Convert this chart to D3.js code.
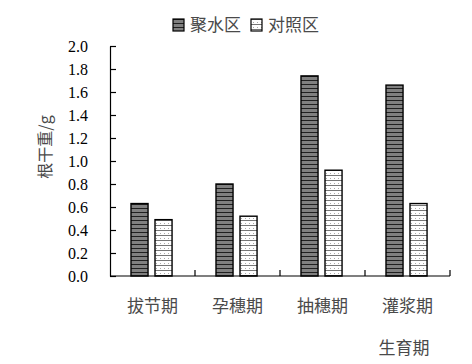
<!DOCTYPE html>
<html>
<head>
<meta charset="utf-8">
<script src="https://cdn.jsdelivr.net/npm/d3@7"></script>
<style>
body { margin: 0; background: #fff; }
.cn { font-family: "Noto Sans CJK SC", sans-serif; fill: #4a4a4a; }
</style>
</head>
<body>
<script>
var stages = [ "拔节期", "孕穗期", "抽穗期", "灌浆期" ];
var series = [ "聚水区", "对照区" ];
var jushui = [ 0.63, 0.80, 1.74, 1.66 ];
var duizhao = [ 0.49, 0.52, 0.92, 0.63 ];
var yTicks = [ 0, 0.2, 0.4, 0.6, 0.8, 1.0, 1.2, 1.4, 1.6, 1.8, 2.0 ];

var W = 472, H = 364;
var plotLeft = 110, plotRight = 450, plotTop = 46, plotBottom = 276;

var svg = d3.select("body").append("svg")
	.attr("width", W)
	.attr("height", H);

// fill patterns
var defs = svg.append("defs");
var pDark = defs.append("pattern")
	.attr("id", "pDark")
	.attr("patternUnits", "userSpaceOnUse")
	.attr("width", 4).attr("height", 4);
pDark.append("rect").attr("width", 4).attr("height", 4).attr("fill", "#808080");
pDark.append("rect").attr("y", 0).attr("width", 4).attr("height", 1).attr("fill", "#202020");

var pLight = defs.append("pattern")
	.attr("id", "pLight")
	.attr("patternUnits", "userSpaceOnUse")
	.attr("width", 4).attr("height", 5);
pLight.append("rect").attr("width", 4).attr("height", 5).attr("fill", "#fff");
pLight.append("rect").attr("y", 0).attr("width", 4).attr("height", 1).attr("fill", "#777");
pLight.append("rect").attr("x", 2).attr("y", 3).attr("width", 1).attr("height", 1).attr("fill", "#aaa");

var fills = [ "url(#pDark)", "url(#pLight)" ];

var x0 = d3.scaleBand().domain(stages).range([ plotLeft, plotRight ]).padding(0);
var bw = x0.bandwidth();
var x1 = d3.scaleBand().domain(series).range([ bw * 0.247, bw * 0.73 ]).paddingInner(0.29).paddingOuter(0);
var y = d3.scaleLinear().domain([ 0, 2 ]).range([ plotBottom, plotTop ]);

var data = stages.map(function(s, i) {
	return { stage : s, values : [ jushui[i], duizhao[i] ] };
});

// bars
var groups = svg.selectAll(".grp").data(data).enter().append("g")
	.attr("class", "grp")
	.attr("transform", function(d) { return "translate(" + x0(d.stage) + ",0)"; });

groups.selectAll("rect").data(function(d) {
	return d.values.map(function(v, j) { return { s : series[j], v : v, j : j }; });
}).enter().append("rect")
	.attr("x", function(d) { return x1(d.s); })
	.attr("y", function(d) { return y(d.v); })
	.attr("width", x1.bandwidth())
	.attr("height", function(d) { return y(0) - y(d.v); })
	.attr("fill", function(d) { return fills[d.j]; })
	.attr("stroke", "#000")
	.attr("stroke-width", 1.4);

// y axis
var yAxis = d3.axisLeft(y).tickValues(yTicks).tickFormat(d3.format(".1f"))
	.tickSize(-6).tickSizeOuter(0).tickPadding(22);
var gy = svg.append("g")
	.attr("transform", "translate(" + plotLeft + ",0)")
	.call(yAxis)
	.attr("font-family", "Liberation Serif")
	.attr("font-size", 16);
gy.select(".domain").attr("stroke", "#000").attr("stroke-width", 1.2);
gy.selectAll(".tick line").attr("stroke", "#000").attr("stroke-width", 1.2);
gy.selectAll(".tick text").attr("fill", "#000");

// x axis
var gx = svg.append("g");
gx.append("line")
	.attr("x1", plotLeft).attr("x2", plotRight)
	.attr("y1", plotBottom).attr("y2", plotBottom)
	.attr("stroke", "#000").attr("stroke-width", 1.2);
gx.selectAll(".xt").data(stages).enter().append("line")
	.attr("x1", function(d) { return x0(d) + bw; })
	.attr("x2", function(d) { return x0(d) + bw; })
	.attr("y1", plotBottom).attr("y2", plotBottom - 6)
	.attr("stroke", "#000").attr("stroke-width", 1.2);
gx.selectAll(".xl").data(stages).enter().append("text")
	.attr("class", "cn")
	.attr("x", function(d) { return x0(d) + bw / 2; })
	.attr("y", 312)
	.attr("text-anchor", "middle")
	.attr("font-size", 17)
	.text(function(d) { return d; });

// axis titles
svg.append("text")
	.attr("class", "cn")
	.attr("x", 404).attr("y", 354)
	.attr("text-anchor", "middle")
	.attr("font-size", 17)
	.text("生育期");

svg.append("text")
	.attr("class", "cn")
	.attr("transform", "translate(51,147) rotate(-90)")
	.attr("text-anchor", "middle")
	.attr("font-size", 16)
	.text("根干重/g");

// legend
var legX = [ 173, 251 ];
var leg = svg.selectAll(".leg").data(series).enter().append("g")
	.attr("class", "leg")
	.attr("transform", function(d, i) { return "translate(" + legX[i] + ",19)"; });
leg.append("rect")
	.attr("width", 11).attr("height", 12)
	.attr("fill", function(d, i) { return fills[i]; })
	.attr("stroke", "#000").attr("stroke-width", 1.2);
leg.append("text")
	.attr("class", "cn")
	.attr("x", 17).attr("y", 12)
	.attr("font-size", 17)
	.text(function(d) { return d; });
</script>
</body>
</html>
